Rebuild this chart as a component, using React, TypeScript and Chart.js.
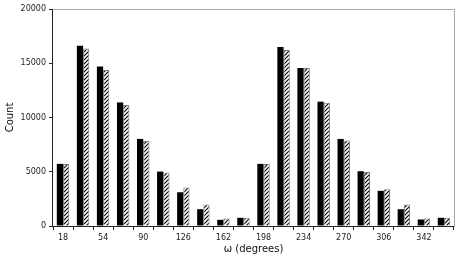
import React, { useEffect, useRef } from "react";
import { Chart, registerables } from "chart.js";

Chart.register(...registerables);

const categories = ["18", "36", "54", "72", "90", "108", "126", "144", "162", "180", "198", "216", "234", "252", "270", "288", "306", "324", "342", "360"];
const seriesA = [5725, 16610, 14710, 11390, 8025, 5015, 3110, 1550, 570, 755, 5725, 16490, 14560, 11460, 8025, 5045, 3240, 1550, 600, 755];
const seriesB = [5725, 16370, 14380, 11150, 7840, 4925, 3545, 1980, 690, 755, 5725, 16215, 14560, 11365, 7870, 4985, 3390, 1980, 690, 755];
const yTicks = [0, 5000, 10000, 15000, 20000];

function makeHatch(): CanvasPattern | string {
  const c = document.createElement("canvas");
  c.width = 4;
  c.height = 4;
  const g = c.getContext("2d");
  if (!g) return "#fff";
  g.fillStyle = "#fff";
  g.fillRect(0, 0, 4, 4);
  g.strokeStyle = "#000";
  g.lineWidth = 1.2;
  g.beginPath();
  g.moveTo(0, 4);
  g.lineTo(4, 0);
  g.moveTo(-1, 1);
  g.lineTo(1, -1);
  g.moveTo(3, 5);
  g.lineTo(5, 3);
  g.stroke();
  return g.createPattern(c, "repeat") || "#fff";
}

const framePlugin = {
  id: "frame",
  afterDatasetsDraw(chart: any) {
    const { ctx, chartArea } = chart;
    const { left, right, top, bottom } = chartArea;
    ctx.save();
    ctx.lineWidth = 1;
    ctx.strokeStyle = "#aaaaaa";
    ctx.beginPath();
    ctx.moveTo(left, top + 0.5);
    ctx.lineTo(right + 0.5, top + 0.5);
    ctx.lineTo(right + 0.5, bottom);
    ctx.stroke();
    ctx.strokeStyle = "#222";
    ctx.beginPath();
    ctx.moveTo(left - 0.5, top);
    ctx.lineTo(left - 0.5, bottom + 0.5);
    ctx.lineTo(right + 0.5, bottom + 0.5);
    ctx.stroke();
    ctx.restore();
  },
};

export default function App() {
  const ref = useRef<HTMLCanvasElement | null>(null);
  useEffect(() => {
    document.body.style.margin = "0";
    const canvas = ref.current;
    if (!canvas) return;
    const hatch = makeHatch();
    const font = { family: "'DejaVu Sans', sans-serif", size: 8 };
    const chart = new Chart(canvas, {
      type: "bar",
      data: {
        labels: categories,
        datasets: [
          {
            label: "A",
            data: seriesA,
            backgroundColor: "#000",
            borderColor: "#000",
            borderWidth: 0,
            barPercentage: 1.0,
            categoryPercentage: 0.62,
          },
          {
            label: "B",
            data: seriesB,
            backgroundColor: hatch as any,
            borderColor: "#777",
            borderWidth: 1,
            barPercentage: 1.0,
            categoryPercentage: 0.62,
          },
        ],
      },
      options: {
        animation: false,
        responsive: false,
        maintainAspectRatio: false,
        layout: { padding: { top: 9, right: 4, left: 0, bottom: 0 } },
        plugins: {
          legend: { display: false },
          tooltip: { enabled: false },
        },
        scales: {
          x: {
            offset: true,
            border: { display: false },
            grid: {
              offset: true,
              drawOnChartArea: false,
              drawTicks: true,
              tickLength: 4,
              color: "#222",
            },
            ticks: {
              autoSkip: false,
              maxRotation: 0,
              color: "#222",
              font,
              padding: 3,
              callback: (_v: any, i: number) => (i % 2 === 0 ? categories[i] : ""),
            },
            title: {
              display: true,
              text: "ω (degrees)",
              color: "#111",
              font: { family: "'DejaVu Sans', sans-serif", size: 10 },
              padding: { top: 0, bottom: 3 },
            },
            afterFit: (s: any) => {
              s.height = 32;
            },
          },
          y: {
            min: 0,
            max: 20000,
            border: { display: false },
            grid: {
              drawOnChartArea: false,
              drawTicks: true,
              tickLength: 4,
              color: "#222",
            },
            afterBuildTicks: (s: any) => {
              s.ticks = yTicks.map((v) => ({ value: v }));
            },
            ticks: {
              color: "#222",
              font,
              padding: 3,
              callback: (v: any) => String(v),
            },
            title: {
              display: true,
              text: "Count",
              color: "#111",
              font: { family: "'DejaVu Sans', sans-serif", size: 10 },
              padding: { top: 4, bottom: 4 },
            },
            afterFit: (s: any) => {
              s.width = 53;
            },
          },
        },
      },
      plugins: [framePlugin],
    });
    return () => chart.destroy();
  }, []);
  return (
    <div style={{ width: 458, height: 258 }}>
      <canvas ref={ref} width={458} height={258} style={{ display: "block" }} />
    </div>
  );
}
